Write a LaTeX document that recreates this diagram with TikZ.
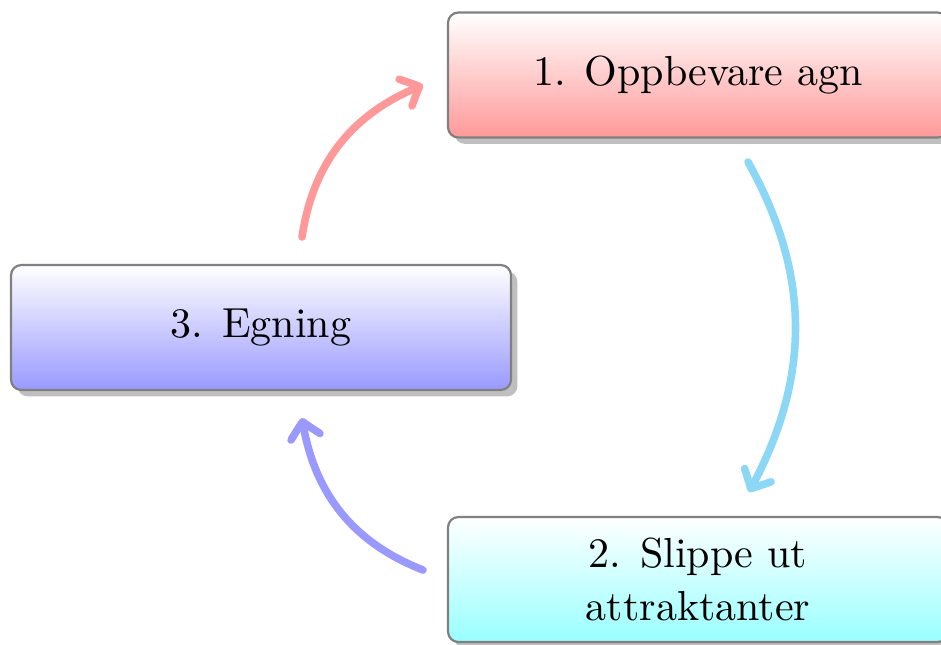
\documentclass[tikz,border=0pt]{standalone}
\usetikzlibrary{arrows.meta,shadows,bending}

\definecolor{flowcyan}{RGB}{140,214,246}

\tikzset{
  stepbox/.style={
    draw=black!50, line width=0.55pt, rounded corners=2.6pt,
    minimum width=125pt, minimum height=31.25pt,
    align=center, inner sep=0pt,
    font=\fontsize{10.5}{13.2}\selectfont,
    top color=white,
    drop shadow={shadow xshift=1.6pt, shadow yshift=-1.6pt, fill=black!25, opacity=1}
  },
  cyclearrow/.style={
    line width=1.9pt, line cap=round,
    -{Straight Barb[length=3.8pt, width=7.4pt, round, bend]}
  }
}

\begin{document}
\begin{tikzpicture}[x=0.25pt, y=-0.25pt]
  \useasboundingbox (0,0) rectangle (941,644);

  % the three stages of the cycle
  \node[stepbox, bottom color=red!40]  (store)   at (698,75)    {1. Oppbevare agn};
  \node[stepbox, bottom color=cyan!40] (release) at (698,579.5) {2. Slippe ut\\attraktanter};
  \node[stepbox, bottom color=blue!40] (bait)    at (261,327.5) {3. Egning};

  % arrow end points beside the boxes
  \coordinate (r0) at (302,237);
  \coordinate (r1) at (423,85);
  \coordinate (c0) at (748,162);
  \coordinate (c1) at (749,492);
  \coordinate (b0) at (423,570);
  \coordinate (b1) at (302,418);

  % connectors between the stages
  \draw[cyclearrow, red!40]   (r0) to[bend left=30] (r1);
  \draw[cyclearrow, flowcyan] (c0) to[bend left=29] (c1);
  \draw[cyclearrow, blue!40]  (b0) to[bend left=30] (b1);
\end{tikzpicture}
\end{document}
